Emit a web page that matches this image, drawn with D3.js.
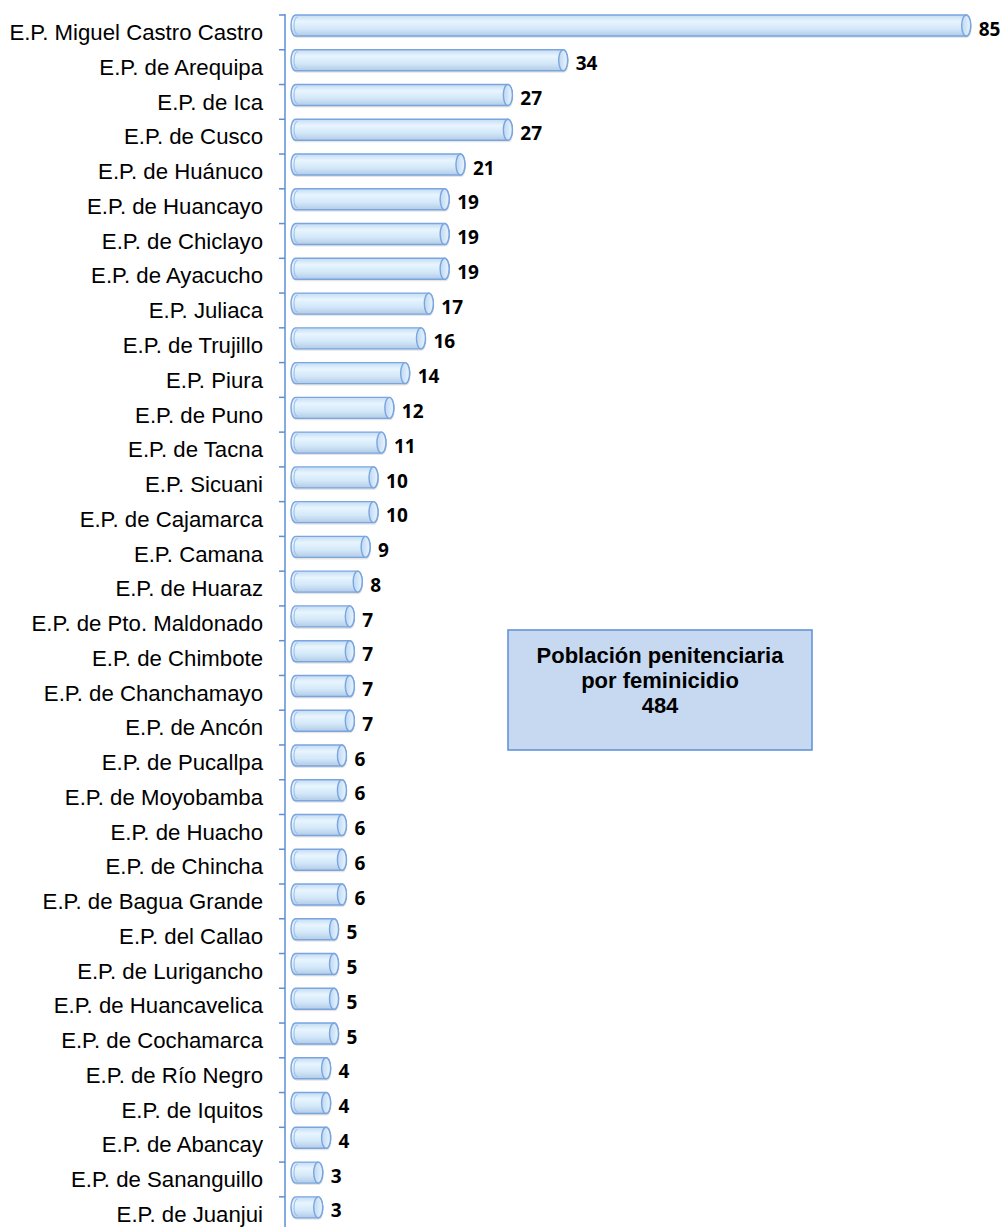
<!DOCTYPE html>
<html>
<head>
<meta charset="utf-8">
<script src="https://cdn.jsdelivr.net/npm/d3@7"></script>
<style>
  body { margin: 0; background: #fff; }
  svg { display: block; }
</style>
</head>
<body>
<svg width="1004" height="1227"></svg>
<script>
var categories = [
  "E.P. Miguel Castro Castro", "E.P. de Arequipa", "E.P. de Ica", "E.P. de Cusco",
  "E.P. de Huánuco", "E.P. de Huancayo", "E.P. de Chiclayo", "E.P. de Ayacucho",
  "E.P. Juliaca", "E.P. de Trujillo", "E.P. Piura", "E.P. de Puno", "E.P. de Tacna",
  "E.P. Sicuani", "E.P. de Cajamarca", "E.P. Camana", "E.P. de Huaraz",
  "E.P. de Pto. Maldonado", "E.P. de Chimbote", "E.P. de Chanchamayo", "E.P. de Ancón",
  "E.P. de Pucallpa", "E.P. de Moyobamba", "E.P. de Huacho", "E.P. de Chincha",
  "E.P. de Bagua Grande", "E.P. del Callao", "E.P. de Lurigancho", "E.P. de Huancavelica",
  "E.P. de Cochamarca", "E.P. de Río Negro", "E.P. de Iquitos", "E.P. de Abancay",
  "E.P. de Sananguillo", "E.P. de Juanjui"
];
var values = [85, 34, 27, 27, 21, 19, 19, 19, 17, 16, 14, 12, 11, 10, 10, 9, 8,
  7, 7, 7, 7, 6, 6, 6, 6, 6, 5, 5, 5, 5, 4, 4, 4, 3, 3];
var boxLines = ["Población penitenciaria", "por feminicidio", "484"];

var svg = d3.select("svg");

var step = 34.76;
var y = d3.scaleBand().domain(categories).range([15, 15 + step * categories.length]).padding(0);
var x = d3.scaleLinear().domain([0, 85]).range([299, 970.7]);

var defs = svg.append("defs");
var grad = defs.append("linearGradient").attr("id", "cyl").attr("x1", 0).attr("y1", 0).attr("x2", 0).attr("y2", 1);
grad.append("stop").attr("offset", "0%").attr("stop-color", "#c4dcf4");
grad.append("stop").attr("offset", "30%").attr("stop-color", "#e8f5fe");
grad.append("stop").attr("offset", "65%").attr("stop-color", "#d3e8f9");
grad.append("stop").attr("offset", "100%").attr("stop-color", "#b2cbe6");

var capGrad = defs.append("linearGradient").attr("id", "cap").attr("x1", 0).attr("y1", 0).attr("x2", 1).attr("y2", 0);
capGrad.append("stop").attr("offset", "0%").attr("stop-color", "#c0d8f2");
capGrad.append("stop").attr("offset", "100%").attr("stop-color", "#e8f5fe");

var barH = 21, rx = 4.5, x0off = 8;
var edge = "#7aa5df";

// axis
var axis = d3.axisLeft(y).tickSize(6).tickFormat("");
var gAxis = svg.append("g").attr("transform", "translate(285,0)").call(axis);
gAxis.select(".domain").remove();
gAxis.selectAll(".tick line").attr("stroke", "#5b8fd6").attr("stroke-width", 1.5)
  .attr("transform", function() { return "translate(0," + (-step / 2) + ")"; });
svg.append("line").attr("x1", 285).attr("x2", 285).attr("y1", 14).attr("y2", 1227)
  .attr("stroke", "#5b8fd6").attr("stroke-width", 1.5);

var rows = svg.selectAll(".bar").data(categories).enter().append("g").attr("class", "bar");

function cylPath(a, b, t, h) {
  var r = h / 2;
  return "M" + (a + rx) + "," + t + " L" + (b - rx) + "," + t +
    " A" + rx + "," + r + " 0 0 1 " + (b - rx) + "," + (t + h) +
    " L" + (a + rx) + "," + (t + h) +
    " A" + rx + "," + r + " 0 0 1 " + (a + rx) + "," + t + " Z";
}

// soft shadow
rows.append("path")
  .attr("d", function(d, i) { return cylPath(x(0) - x0off + 1, x(values[i]) + 1, y(d) + 2, barH); })
  .attr("fill", "#000").attr("opacity", 0.1);

rows.append("path")
  .attr("d", function(d, i) { return cylPath(x(0) - x0off, x(values[i]), y(d), barH); })
  .attr("fill", "url(#cyl)")
  .attr("stroke", edge).attr("stroke-width", 1.4);

// left inner edge
rows.append("path")
  .attr("d", function(d) {
    var a = x(0) - x0off + rx, t = y(d);
    return "M" + (a + 2) + "," + (t + 2) + " A" + (rx - 1) + "," + (barH / 2 - 2) + " 0 0 0 " + (a + 2) + "," + (t + barH - 2);
  })
  .attr("fill", "none").attr("stroke", "#98bce8").attr("stroke-width", 1);

// right cap
rows.append("ellipse")
  .attr("cx", function(d, i) { return x(values[i]) - rx; })
  .attr("cy", function(d) { return y(d) + barH / 2; })
  .attr("rx", rx).attr("ry", barH / 2)
  .attr("fill", "url(#cap)")
  .attr("stroke", edge).attr("stroke-width", 1.4);

// value labels
rows.append("text")
  .attr("x", function(d, i) { return x(values[i]) + 8; })
  .attr("y", function(d) { return y(d) + 14; })
  .attr("dy", "0.35em")
  .attr("font-family", "'Open Sans', sans-serif")
  .attr("font-weight", "bold")
  .attr("font-size", 19)
  .attr("fill", "#000")
  .text(function(d, i) { return values[i]; });

// category labels
rows.append("text")
  .attr("x", 263)
  .attr("y", function(d) { return y(d) + y.bandwidth() / 2; })
  .attr("dy", "0.35em")
  .attr("text-anchor", "end")
  .attr("font-family", "'Liberation Sans', Arial, sans-serif")
  .attr("font-size", 22.2)
  .attr("fill", "#000")
  .text(function(d) { return d; });

// info box
var box = svg.append("g");
box.append("rect").attr("x", 508).attr("y", 630).attr("width", 304).attr("height", 120)
  .attr("fill", "#c6d9f1").attr("stroke", "#5b8fd6").attr("stroke-width", 1.5);
box.selectAll("text").data(boxLines).enter().append("text")
  .attr("x", 660)
  .attr("y", function(d, i) { return 655 + i * 25; })
  .attr("dy", "0.35em")
  .attr("text-anchor", "middle")
  .attr("font-family", "'Liberation Sans', Arial, sans-serif")
  .attr("font-weight", "bold")
  .attr("font-size", 22)
  .attr("fill", "#000")
  .text(function(d) { return d; });
</script>
</body>
</html>
